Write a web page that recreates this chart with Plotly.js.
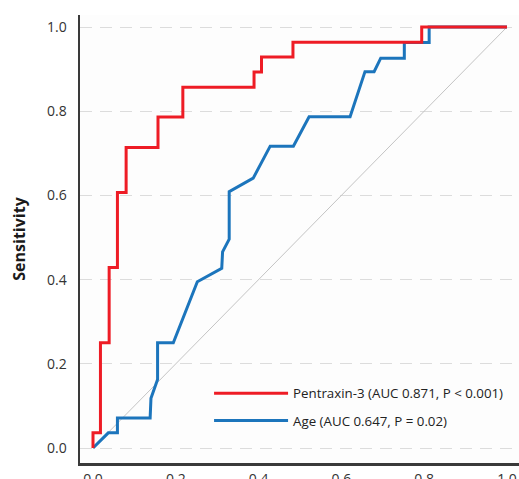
<!DOCTYPE html>
<html>
<head>
<meta charset="utf-8">
<script src="https://cdn.plot.ly/plotly-3.0.1.min.js"></script>
<style>html,body{margin:0;padding:0;background:#fff;}#chart{width:519px;height:479px;}</style>
</head>
<body>
<div id="chart"></div>
<script>
// Pentraxin-3 ROC curve (1 - specificity, sensitivity)
const ptxFpr = [0, 0, 0.018, 0.018, 0.039, 0.039, 0.059, 0.059, 0.080, 0.080, 0.157, 0.157, 0.217, 0.217, 0.389, 0.389, 0.407, 0.407, 0.483, 0.483, 0.794, 0.794, 1.0];
const ptxTpr = [0, 0.036, 0.036, 0.25, 0.25, 0.429, 0.429, 0.607, 0.607, 0.714, 0.714, 0.786, 0.786, 0.857, 0.857, 0.893, 0.893, 0.929, 0.929, 0.964, 0.964, 1.0, 1.0];
// Age ROC curve
const ageFpr = [0, 0.037, 0.059, 0.059, 0.138, 0.140, 0.156, 0.156, 0.194, 0.252, 0.311, 0.313, 0.329, 0.329, 0.387, 0.428, 0.484, 0.522, 0.621, 0.657, 0.679, 0.695, 0.752, 0.752, 0.812, 0.812, 1.0];
const ageTpr = [0, 0.036, 0.036, 0.071, 0.071, 0.118, 0.163, 0.25, 0.25, 0.395, 0.427, 0.466, 0.496, 0.609, 0.641, 0.717, 0.717, 0.787, 0.787, 0.894, 0.894, 0.926, 0.926, 0.963, 0.963, 1.0, 1.0];
// Reference (chance) line
const refX = [0, 1];
const refY = [0, 1];
const tickVals = [0, 0.2, 0.4, 0.6, 0.8, 1.0];
const tickText = ["0.0", "0.2", "0.4", "0.6", "0.8", "1.0"];
const seriesNames = ["Pentraxin-3 (AUC 0.871, P < 0.001)", "Age (AUC 0.647, P = 0.02)"];

const FONT = "Open Sans, Noto Sans, sans-serif";

const traces = [
  {x: refX, y: refY, mode: "lines", line: {color: "#c4c4c4", width: 1}, showlegend: false, hoverinfo: "skip"},
  {x: ageFpr, y: ageTpr, mode: "lines", name: seriesNames[1], legendrank: 2, legendgroup: "b",
   line: {color: "#1c75bc", width: 3}},
  {x: ptxFpr, y: ptxTpr, mode: "lines", name: seriesNames[0], legendrank: 1, legendgroup: "a",
   line: {color: "#ee1c25", width: 3}}
];

const layout = {
  width: 519, height: 479,
  margin: {l: 80, r: 0, t: 15, b: 16},
  paper_bgcolor: "#ffffff",
  plot_bgcolor: "#fdfdfd",
  font: {family: FONT, size: 13, color: "#333"},
  showlegend: true,
  legend: {
    x: 0.294, y: 0.1895, xanchor: "left", yanchor: "top",
    bgcolor: "rgba(0,0,0,0)", borderwidth: 0,
    font: {family: FONT, size: 13.3, color: "#222"},
    itemwidth: 74, tracegroupgap: 7, traceorder: "grouped"
  },
  xaxis: {
    range: [-0.0314, 1.029], automargin: false,
    tickvals: tickVals, ticktext: tickText, ticks: "", ticklabelstandoff: 2,
    showgrid: false, zeroline: false,
    showline: true, linecolor: "#3a3a3a", linewidth: 2.5,
    tickfont: {family: FONT, size: 14, color: "#333"}
  },
  yaxis: {
    range: [-0.0356, 1.0285], automargin: false,
    tickvals: tickVals, ticktext: tickText, ticks: "", ticklabelstandoff: 8,
    showgrid: true, gridcolor: "#dcdcdc", gridwidth: 1, griddash: "12px,8px",
    zeroline: false,
    showline: true, linecolor: "#3a3a3a", linewidth: 2.5,
    tickfont: {family: FONT, size: 14, color: "#333"},
    title: {text: "<b>Sensitivity</b>", standoff: 18, font: {family: FONT, size: 16, color: "#1a1a1a"}}
  }
};

Plotly.newPlot("chart", traces, layout, {displayModeBar: false, staticPlot: true});
</script>
</body>
</html>
